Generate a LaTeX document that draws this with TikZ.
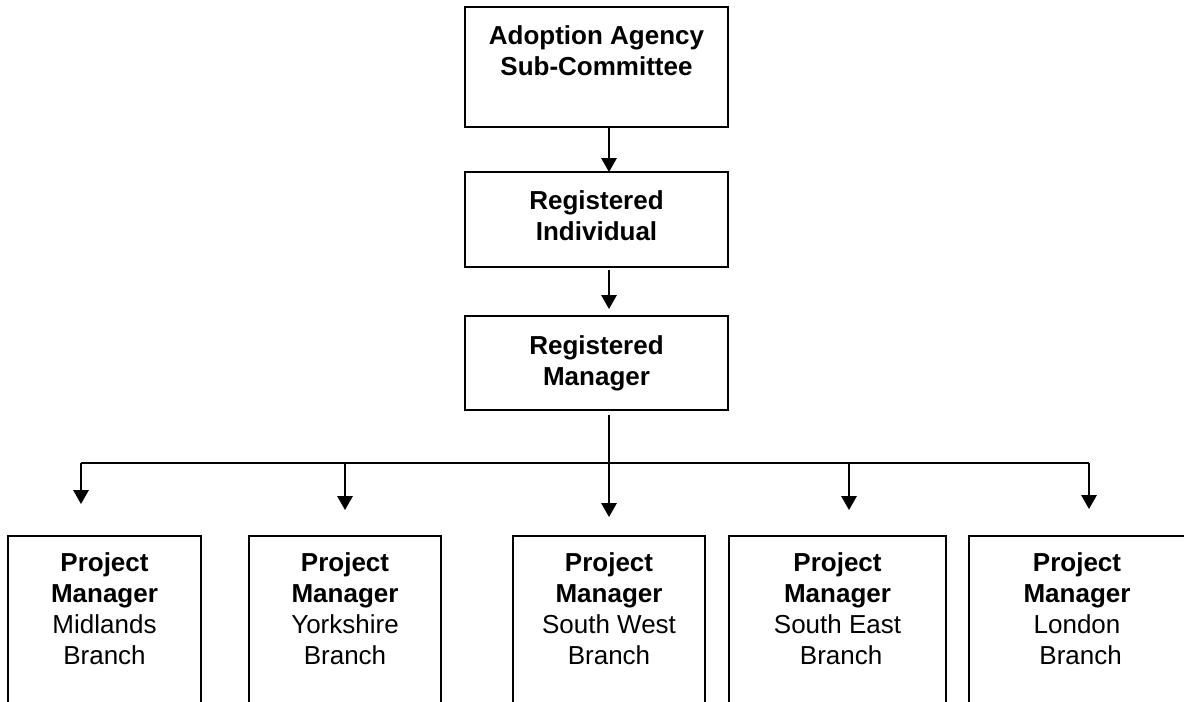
\documentclass[tikz,border=0pt]{standalone}
\usepackage{fontspec}
\setmainfont{Liberation Sans}
\usetikzlibrary{arrows.meta}
\tikzset{
  box/.style={draw, line width=1.5pt, rectangle, inner sep=0pt, outer sep=0pt},
  lbl/.style={anchor=north, inner sep=0pt, align=center, font=\fontsize{19.5}{23.25}\selectfont},
  conn/.style={line width=1.5pt},
  arr/.style={line width=1.5pt, -{Triangle[width=11.5pt,length=10.5pt]}}
}
\begin{document}
\begin{tikzpicture}[x=0.75pt,y=-0.75pt]
\useasboundingbox (0,0) rectangle (1184,701);
\clip (0,0) rectangle (1184,701);
% upper boxes
\node[box, minimum width=197.25pt, minimum height=90pt] (aasc) at (596.5,67) {};
\node[box, minimum width=197.25pt, minimum height=71.25pt] (ri) at (596.5,219.5) {};
\node[box, minimum width=197.25pt, minimum height=70.5pt] (rm) at (596.5,363) {};
\node[lbl] (taasc) at (596.5,25) {\textbf{Adoption Agency}\\\textbf{Sub-Committee}};
\node[lbl] (tri) at (596.5,190) {\textbf{Registered}\\\textbf{Individual}};
\node[lbl] (trm) at (596.5,335) {\textbf{Registered}\\\textbf{Manager}};
% lower boxes
\node[box, minimum width=144.75pt, minimum height=168.75pt] (mid) at (104.5,648) {};
\node[box, minimum width=144pt, minimum height=168.75pt] (yor) at (345,648) {};
\node[box, minimum width=144pt, minimum height=168.75pt] (sw) at (609,648) {};
\node[box, minimum width=162.75pt, minimum height=168.75pt] (se) at (837.5,648) {};
\node[box, minimum width=169.5pt, minimum height=168.75pt] (lon) at (1082,648) {};
\node[lbl] (tmid) at (104.5,552) {\textbf{Project}\\\textbf{Manager}\\Midlands\\Branch};
\node[lbl] (tyor) at (345,552) {\textbf{Project}\\\textbf{Manager}\\Yorkshire\\Branch};
\node[lbl] (tsw) at (609,552) {\textbf{Project}\\\textbf{Manager}\\South West\\Branch};
\node[lbl] (tse) at (837.5,552) {\textbf{Project}\\\textbf{Manager}\\South East\\\hspace*{.278em}Branch};
\node[lbl] (tlon) at (1077,552) {\textbf{Project}\\\textbf{Manager}\\London\\\hspace*{.278em}Branch};
% connector coordinates
\coordinate (ax) at (609,0);
\coordinate (jM) at (81,463);
\coordinate (jY) at (345,463);
\coordinate (jS) at (609,463);
\coordinate (jE) at (849,463);
\coordinate (jL) at (1089,463);
\coordinate (tM) at (81,504);
\coordinate (tY) at (345,510);
\coordinate (tS) at (609,517);
\coordinate (tE) at (849,510);
\coordinate (tL) at (1089,509);
% connectors
\draw[arr] (aasc.south -| ax) -- (ri.north -| ax);
\draw[arr] ([yshift=-2.25pt]ri.south -| ax) -- ([yshift=5.25pt]rm.north -| ax);
\draw[arr] ([yshift=-3.75pt]rm.south -| ax) -- (tS);
\draw[conn] (jM) -- (jL);
\draw[arr] (jM) -- (tM);
\draw[arr] (jY) -- (tY);
\draw[arr] (jE) -- (tE);
\draw[arr] (jL) -- (tL);
\end{tikzpicture}
\end{document}
